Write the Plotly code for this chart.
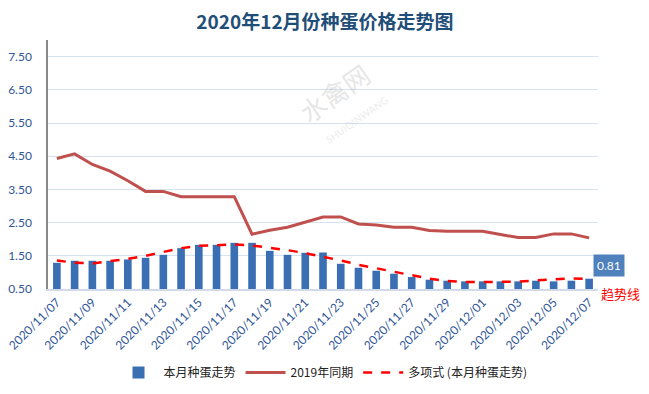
import plotly.graph_objects as go

dates = ["2020/11/%02d" % d for d in range(7, 31)] + ["2020/12/%02d" % d for d in range(1, 8)]

bars_2020 = [1.29, 1.35, 1.35, 1.35, 1.39, 1.44, 1.53, 1.73, 1.83, 1.83, 1.89,
             1.89, 1.65, 1.53, 1.59, 1.60, 1.26, 1.14, 1.05, 0.96, 0.86, 0.78,
             0.75, 0.73, 0.73, 0.73, 0.73, 0.75, 0.73, 0.75, 0.81]

line_2019 = [4.43, 4.57, 4.25, 4.05, 3.76, 3.44, 3.44, 3.28, 3.28, 3.28, 3.28,
             2.15, 2.27, 2.36, 2.52, 2.67, 2.67, 2.46, 2.43, 2.36, 2.36, 2.26,
             2.24, 2.24, 2.24, 2.14, 2.05, 2.05, 2.16, 2.16, 2.04]

trend = [1.36, 1.29, 1.27, 1.33, 1.41, 1.50, 1.61, 1.73, 1.80, 1.83, 1.84,
         1.81, 1.75, 1.67, 1.58, 1.48, 1.36, 1.23, 1.12, 1.02, 0.92, 0.81,
         0.74, 0.71, 0.71, 0.71, 0.72, 0.76, 0.80, 0.82, 0.80]

y_ticks = [0.5, 1.5, 2.5, 3.5, 4.5, 5.5, 6.5, 7.5]
x_ticks = dates[::2]

num_font = "Lato, 'Noto Sans CJK SC', sans-serif"
cjk_font = "'Noto Sans CJK SC', sans-serif"

W, H = 649, 394

fig = go.Figure()
fig.add_trace(go.Bar(
    x=dates, y=bars_2020, name="本月种蛋走势",
    marker=dict(color="#3A6FB4", line=dict(width=0)),
))
fig.add_trace(go.Scatter(
    x=dates, y=line_2019, name="2019年同期", mode="lines",
    line=dict(color="#C0504D", width=3),
))
fig.add_trace(go.Scatter(
    x=dates, y=trend, name="多项式 (本月种蛋走势)", mode="lines",
    line=dict(color="#FF0000", width=2.5, dash="dash"),
))

fig.update_layout(
    width=W, height=H,
    margin=dict(l=48, r=51, t=40, b=105, autoexpand=False),
    paper_bgcolor="white", plot_bgcolor="white",
    bargap=0.57,
    title=dict(text="<b>2020年12月份种蛋价格走势图</b>", x=325 / W, xanchor="center",
               y=1 - 22 / H, yanchor="middle",
               font=dict(family=cjk_font, size=19, color="#1F4E79")),
    legend=dict(orientation="h", x=0.5, xanchor="center", y=-0.335, yanchor="middle",
                font=dict(family=cjk_font, size=12, color="#222222"),
                traceorder="normal", itemwidth=40),
    showlegend=True,
)
fig.update_xaxes(
    type="category", tickmode="array", tickvals=x_ticks, ticktext=x_ticks,
    range=[-0.5, len(dates) - 0.5],
    tickangle=-45, tickfont=dict(family=num_font, size=12, color="#2F5597"),
    showgrid=False, showline=True, linecolor="#D0DAE8", linewidth=1.5,
    ticks="", automargin=False,
)
fig.update_yaxes(
    range=[0.5, 8.0], tickmode="array", tickvals=y_ticks,
    ticktext=["%.2f" % v for v in y_ticks],
    tickfont=dict(family=num_font, size=12, color="#2F5597"),
    showgrid=True, gridcolor="#D6E2F0", gridwidth=1.2,
    showline=True, linecolor="#888888", linewidth=1.5, zeroline=False,
    ticks="", ticklabelstandoff=12, automargin=False,
)

fig.add_annotation(x=dates[-1], y=bars_2020[-1], text="0.81", showarrow=False,
                   xanchor="center", yanchor="middle",
                   xshift=20, yshift=13, bgcolor="#4F81BD",
                   font=dict(family=num_font, size=12, color="white"),
                   borderpad=3)
fig.add_annotation(xref="paper", yref="paper", x=1.04, y=-0.018, text="趋势线",
                   xanchor="center", yanchor="middle",
                   showarrow=False, font=dict(family=cjk_font, size=13, color="#FF0000"))

# watermark
fig.add_annotation(xref="paper", yref="paper", x=0.52, y=0.79, text="水禽网",
                   xanchor="center", yanchor="middle",
                   showarrow=False, textangle=-35, opacity=0.2,
                   font=dict(family=cjk_font, size=26, color="#888888"))
fig.add_annotation(xref="paper", yref="paper", x=0.56, y=0.68, text="SHUIQINWANG",
                   xanchor="center", yanchor="middle",
                   showarrow=False, textangle=-35, opacity=0.15,
                   font=dict(family=num_font, size=10, color="#888888"))

fig.write_html("out.html", config={"displayModeBar": False},
               post_script="document.body.style.margin='0';document.body.style.overflow='hidden';")
